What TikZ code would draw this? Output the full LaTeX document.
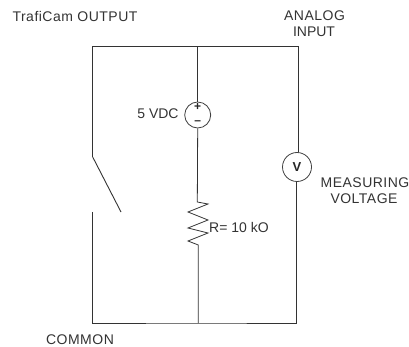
\documentclass[tikz,border=0pt]{standalone}
\usepackage{fontspec}
\setmainfont{Liberation Sans}
\tikzset{
  wire/.style={draw=black!80,line width=0.9pt},
  lbl/.style={font=\fontsize{14}{16}\selectfont,text=black!80,inner sep=0pt,align=center},
  tracked/.style={font=\fontsize{14}{16}\selectfont\addfontfeature{LetterSpace=3.5}},
  meter/.style={circle,draw=black!75,line width=0.8pt,inner sep=0pt,minimum size=#1},
  signmark/.style={font=\fontsize{12}{12}\selectfont\bfseries,text=black!85,inner sep=0pt}
}
\begin{document}
\begin{tikzpicture}[x=1pt,y=-1pt]
\useasboundingbox (0,0) rectangle (409,347);
\node[lbl,tracked] (tc) at (75,16) {TrafiCam OUTPUT};
\node[lbl,tracked] (ai) at (314.5,16) {ANALOG};
\node[lbl] (ip) at (314,32) {INPUT};
\node[lbl] (vdc) at (158,114) {5 VDC};
\node[lbl,anchor=west] (rv) at (209,227.5) {R= 10 kO};
\node[lbl,tracked] (ms) at (365,183) {MEASURING};
\node[lbl,tracked] (vt) at (364,199) {VOLTAGE};
\node[lbl,tracked] (cm) at (80,340) {COMMON};
\node[meter=26pt] (src) at (197.7,115) {};
\node[signmark] (pl) at (197.7,106.5) {+};
\node[signmark] (mn) at (197.7,122.5) {–};
\node[meter=29pt] (vm) at (297,167) {};
\node[signmark,font=\fontsize{13}{13}\selectfont\bfseries] (vl) at (297,167) {V};
\coordinate (tl) at (92.7,46.3);
\coordinate (tm) at (197.3,46.3);
\coordinate (tr) at (298.3,46.3);
\coordinate (bl) at (92.7,323);
\coordinate (bm) at (198.3,323);
\coordinate (br) at (296,323);
\coordinate (swa) at (92.7,157);
\coordinate (swb) at (121,212);
\coordinate (swc) at (92.7,212);
\draw[wire] (swa) -- (tl) -- (tm) -- (tr) -- (tr |- vm.north);
\draw[wire] (tm) -- (tm |- src.north);
\draw[wire] (swa) -- (swb);
\draw[wire] (swc) -- (bl) -- (bm) -- (br) -- (br |- vm.south);
\draw[wire,line width=0.8pt] (src.south) -- (197.3,202) -- (208,204) -- (188,212) -- (208,220) -- (188,228) -- (208,233) -- (188,241) -- (198.3,245) -- (bm);
\end{tikzpicture}
\end{document}
